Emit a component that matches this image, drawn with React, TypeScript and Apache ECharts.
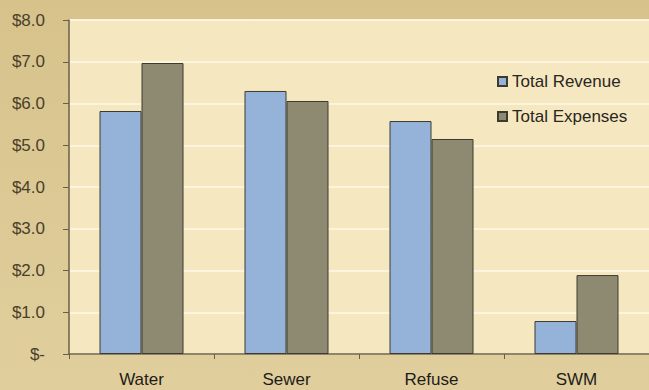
import React, { useEffect, useRef } from "react";
import * as echarts from "echarts";

// Fund categories and their totals (millions of dollars)
const categories = ["Water", "Sewer", "Refuse", "SWM"];
const totalRevenue = [5.82, 6.3, 5.58, 0.79];
const totalExpenses = [6.97, 6.06, 5.15, 1.89];
const yTicks = [0, 1, 2, 3, 4, 5, 6, 7, 8];

const fmtDollar = (v: number) => (v === 0 ? "$-" : "$" + v.toFixed(1));

export default function App() {
  const ref = useRef<HTMLDivElement>(null);

  useEffect(() => {
    if (!ref.current) return;
    const chart = echarts.init(ref.current, undefined, { renderer: "svg" });
    const font = "'Liberation Sans', Arial, sans-serif";
    chart.setOption({
      animation: false,
      backgroundColor: {
        type: "linear",
        x: 0,
        y: 0,
        x2: 0,
        y2: 1,
        colorStops: [
          { offset: 0, color: "#d7c28b" },
          { offset: 1, color: "#e0cf9d" },
        ],
      },
      textStyle: { fontFamily: font },
      grid: {
        left: 69,
        top: 20,
        width: 585,
        height: 334,
        show: true,
        backgroundColor: "#f5e8c1",
        borderWidth: 0,
      },
      legend: {
        orient: "vertical",
        left: 492,
        top: 68,
        itemWidth: 9,
        itemHeight: 9,
        itemGap: 18,
        icon: "rect",
        textStyle: {
          fontSize: 17,
          color: "#2a2620",
          fontFamily: font,
        },
        data: ["Total Revenue", "Total Expenses"],
      },
      xAxis: {
        type: "category",
        data: categories,
        boundaryGap: true,
        axisLine: { lineStyle: { color: "#6b5f45", width: 1.5 } },
        axisTick: { show: true, length: 5, lineStyle: { color: "#6b5f45" } },
        axisLabel: { color: "#1e1c18", fontSize: 17, margin: 17, fontFamily: font },
      },
      yAxis: {
        type: "value",
        min: yTicks[0],
        max: yTicks[yTicks.length - 1],
        interval: 1,
        axisLine: { show: true, lineStyle: { color: "#6b5f45", width: 1.5 } },
        axisTick: { show: true, length: 6, lineStyle: { color: "#6b5f45" } },
        axisLabel: {
          color: "#4a3f2b",
          fontSize: 17,
          margin: 24,
          fontFamily: font,
          formatter: (v: number) => fmtDollar(v),
        },
        splitLine: { show: true, lineStyle: { color: "#fcf4dc", width: 2 } },
      },
      series: [
        {
          name: "Total Revenue",
          type: "bar",
          data: totalRevenue,
          barWidth: 42,
          barGap: "0%",
          itemStyle: { color: "#95b3d8", borderColor: "#3d3a30", borderWidth: 1 },
        },
        {
          name: "Total Expenses",
          type: "bar",
          data: totalExpenses,
          barWidth: 42,
          barGap: "0%",
          itemStyle: { color: "#8e8a72", borderColor: "#3d3a30", borderWidth: 1 },
        },
      ],
    });
    return () => chart.dispose();
  }, []);

  return (
    <div
      ref={ref}
      style={{ position: "fixed", left: 0, top: 0, width: 649, height: 390 }}
    />
  );
}
